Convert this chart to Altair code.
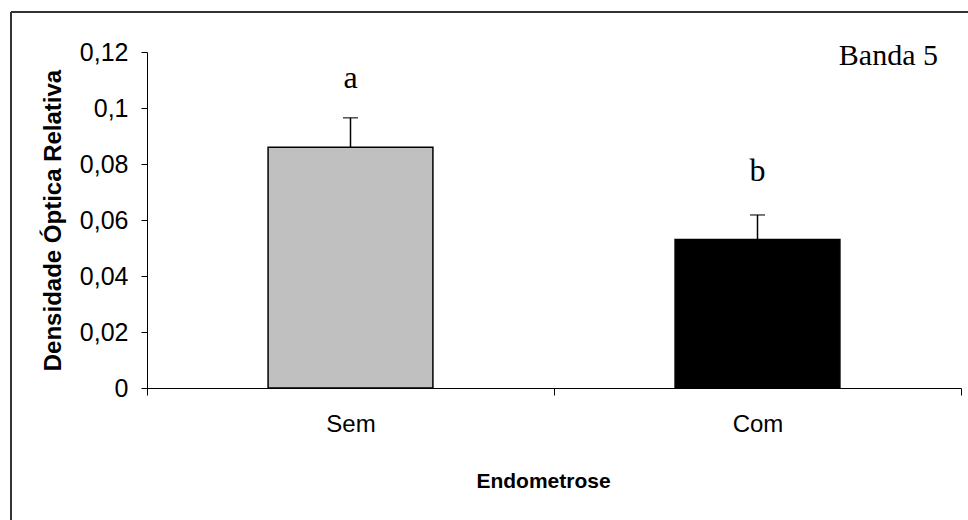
import altair as alt
import pandas as pd

groups = ["Sem", "Com"]
means = [0.086, 0.053]
upper = [0.0965, 0.0618]
letters = ["a", "b"]
letter_y = [0.1071, 0.0739]
colors = ["#C0C0C0", "#000000"]
y_ticks = [0, 0.02, 0.04, 0.06, 0.08, 0.10, 0.12]

df = pd.DataFrame({
    "grupo": groups,
    "media": means,
    "sup": upper,
    "letra": letters,
    "ly": letter_y,
    "cor": colors,
})
one = pd.DataFrame({"k": [0]})

SANS = "Liberation Sans"
SERIF = "Liberation Serif"

x_enc = alt.X(
    "grupo:N",
    sort=groups,
    scale=alt.Scale(paddingInner=0, paddingOuter=0),
    axis=alt.Axis(
        title="Endometrose",
        labelAngle=0,
        tickBand="extent",
        tickSize=7,
        labelPadding=17,
        labelFontSize=24,
        titlePadding=34,
        titleFontSize=21,
        titleX=396,
        titleAlign="center",
    ),
)
y_scale = alt.Scale(domain=[0, 0.12], nice=False, zero=True)
y_enc = alt.Y(
    "media:Q",
    scale=y_scale,
    axis=alt.Axis(
        title="Densidade Óptica Relativa",
        values=y_ticks,
        labelExpr="replace(format(datum.value, '.2~f'), '.', ',')",
        grid=False,
        tickSize=6,
        labelPadding=13,
        labelFontSize=25,
        titlePadding=14,
        titleFontSize=24,
    ),
)

bars = alt.Chart(df).mark_bar(
    width=alt.RelativeBandSize(0.405), stroke="black", strokeWidth=1.5
).encode(x=x_enc, y=y_enc, color=alt.Color("cor:N", scale=None))

err = alt.Chart(df).mark_rule(color="black", strokeWidth=1.5).encode(
    x=alt.X("grupo:N", sort=groups),
    y=alt.Y("media:Q"),
    y2="sup:Q",
)
cap = alt.Chart(df).mark_tick(
    orient="horizontal", size=15, thickness=1.5, color="black"
).encode(x=alt.X("grupo:N", sort=groups), y=alt.Y("sup:Q"))

lets = alt.Chart(df).mark_text(
    font=SERIF, fontSize=32, baseline="alphabetic", color="black"
).encode(x=alt.X("grupo:N", sort=groups), y=alt.Y("ly:Q"), text="letra:N")

banda = alt.Chart(one).mark_text(
    font=SERIF, fontSize=30, align="right", baseline="alphabetic", color="black",
    text="Banda 5",
).encode(x=alt.value(791), y=alt.value(13))

frame_top = alt.Chart(one).mark_rule(color="#333333", strokeWidth=2).encode(
    x=alt.value(-136), x2=alt.value(830), y=alt.value(-40)
)
frame_left = alt.Chart(one).mark_rule(color="#333333", strokeWidth=2).encode(
    x=alt.value(-136), y=alt.value(-40), y2=alt.value(480)
)

chart = alt.layer(bars, err, cap, lets, banda, frame_top, frame_left).properties(
    width=814,
    height=336,
    autosize=alt.AutoSizeParams(type="none"),
    padding={"left": 147, "top": 52, "right": 7, "bottom": 132},
    background="white",
).configure_view(stroke=None).configure_axis(
    domainColor="black",
    tickColor="black",
    labelColor="black",
    titleColor="black",
    labelFont=SANS,
    titleFont=SANS,
    titleFontWeight="bold",
    domainWidth=1,
    tickWidth=1,
)

chart.save("out.html", embed_options={"renderer": "svg", "actions": False})
